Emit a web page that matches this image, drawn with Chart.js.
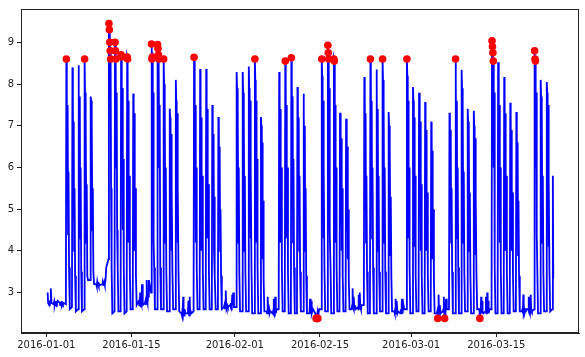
<!DOCTYPE html>
<html lang="en">
  <head>
    <meta charset="UTF-8" />
    <title>Readings with anomalies</title>
    <script src="https://cdn.jsdelivr.net/npm/chart.js@4.4.1/dist/chart.umd.min.js"></script>
    <style>
      body { margin: 0; background: #fff; }
      #chart { display: block; }
    </style>
  </head>
<body>
    <canvas id="chart" width="585" height="357"></canvas>

    <script>
      // sample times inside each day (fraction of a day)
      const sampleOffsets = [0.22, 0.30, 0.37, 0.44, 0.51, 0.58, 0.65, 0.74, 0.86];

      // one row per day, starting 2016-01-01
      const readings = [
        [3.0, 2.75, 2.72, 2.78, 2.7, 2.75, 2.8, 3.1, 2.75],   // 01-01
        [2.72, 2.78, 2.7, 2.75, 2.8, 2.72, 2.68, 2.75, 2.8],
        [2.75, 2.7, 2.78, 2.72, 2.8, 2.7, 2.75, 2.72, 2.75],
        [2.72, 8.6, 7.9, 5.2, 7.5, 4.4, 5.9, 3.6, 2.6],       // 01-04
        [2.65, 8.4, 7.8, 4.8, 7.1, 4.0, 5.5, 3.4, 2.55],
        [2.6, 8.45, 7.6, 5.1, 7.7, 4.3, 6.0, 3.5, 2.55],
        [2.6, 8.6, 7.8, 5.0, 7.3, 4.2, 5.6, 3.4, 3.3],
        [3.3, 7.7, 7.6, 5.2, 7.0, 4.5, 5.5, 3.5, 3.2],
        [3.2, 3.15, 3.25, 3.18, 3.2, 3.15, 3.22, 3.2, 3.18],
        [3.2, 3.22, 3.18, 3.2, 3.25, 3.2, 3.18, 3.3, 3.6],
        [3.8, 9.45, 9.3, 9.0, 8.8, 8.6, 5.5, 3.6, 2.5],       // 01-11
        [2.55, 9.0, 8.8, 8.6, 6.0, 7.8, 4.5, 3.6, 2.55],
        [2.55, 8.7, 8.65, 6.0, 7.9, 4.5, 6.2, 3.6, 2.5],
        [2.55, 8.65, 8.6, 5.5, 7.6, 4.2, 5.8, 3.5, 2.6],
        [2.6, 7.77, 7.5, 5.0, 7.3, 4.0, 5.5, 3.4, 2.7],
        [2.8, 2.7, 2.75, 3.0, 2.65, 2.8, 2.75, 3.2, 2.7],
        [2.75, 2.8, 2.7, 2.85, 3.3, 2.8, 2.75, 2.9, 3.3],
        [3.0, 8.96, 8.6, 8.65, 6.0, 7.8, 4.2, 3.6, 2.6],      // 01-18
        [2.6, 8.95, 8.85, 8.7, 8.6, 6.0, 7.5, 3.6, 2.6],
        [2.6, 8.6, 8.0, 5.5, 7.6, 4.2, 6.0, 3.5, 2.55],
        [2.55, 7.41, 7.2, 4.8, 6.8, 4.0, 5.5, 3.5, 2.6],
        [2.6, 8.1, 7.6, 5.2, 7.3, 4.2, 5.5, 3.5, 2.55],
        [2.5, 2.45, 2.55, 2.5, 2.9, 2.5, 2.45, 2.6, 2.5],
        [2.5, 2.55, 2.8, 2.5, 2.45, 2.9, 2.5, 2.55, 2.5],
        [2.55, 8.64, 8.0, 5.5, 7.5, 4.2, 6.0, 3.6, 2.6],      // 01-25
        [2.6, 8.36, 7.8, 5.0, 7.2, 4.0, 5.8, 3.5, 2.6],
        [2.6, 8.36, 7.6, 5.2, 7.4, 4.3, 5.6, 3.5, 2.6],
        [2.6, 7.5, 7.2, 5.0, 6.8, 4.0, 5.3, 3.4, 2.6],
        [2.6, 7.21, 7.0, 4.8, 6.5, 4.0, 5.0, 3.4, 2.6],
        [2.65, 2.7, 2.6, 2.75, 3.05, 2.7, 2.65, 2.7, 2.65],
        [2.7, 2.65, 2.75, 2.6, 2.7, 2.95, 2.7, 3.0, 2.65],
        [2.65, 8.29, 7.9, 5.2, 7.5, 4.2, 6.0, 3.5, 2.55],     // 02-01
        [2.55, 8.29, 7.8, 5.0, 7.4, 4.0, 5.8, 3.5, 2.55],
        [2.55, 8.42, 7.9, 5.2, 7.6, 4.3, 6.0, 3.6, 2.5],
        [2.5, 8.6, 8.1, 5.5, 7.6, 4.2, 6.2, 3.6, 2.5],
        [2.5, 7.21, 7.0, 4.6, 6.6, 3.8, 5.2, 3.3, 2.55],
        [2.55, 2.5, 2.6, 2.9, 2.5, 2.55, 2.6, 2.5, 2.55],
        [2.5, 2.55, 2.85, 2.5, 2.45, 2.6, 2.9, 2.5, 2.6],
        [2.6, 8.29, 7.9, 5.0, 7.4, 4.2, 6.0, 3.6, 2.55],      // 02-08
        [2.55, 8.55, 8.1, 5.2, 7.5, 4.3, 6.0, 3.5, 2.5],
        [2.5, 8.63, 8.2, 5.4, 7.7, 4.2, 6.2, 3.6, 2.5],
        [2.5, 7.93, 7.6, 5.0, 7.2, 4.0, 5.8, 3.5, 2.55],
        [2.55, 7.77, 7.5, 4.8, 7.0, 4.0, 5.5, 3.4, 2.5],
        [2.5, 2.55, 2.85, 2.5, 2.6, 2.8, 2.5, 2.55, 2.6],
        [2.5, 2.45, 2.38, 2.42, 2.38, 2.5, 2.38, 2.45, 2.6],
        [2.6, 8.6, 8.2, 5.5, 7.6, 4.3, 6.0, 3.6, 2.55],       // 02-15
        [2.55, 8.93, 8.75, 8.6, 6.0, 7.9, 4.4, 3.6, 2.5],
        [2.5, 8.6, 8.55, 5.5, 7.5, 4.2, 6.0, 3.6, 2.55],
        [2.55, 7.31, 7.0, 4.6, 6.7, 4.0, 5.5, 3.4, 2.55],
        [2.55, 7.17, 6.9, 4.5, 6.5, 3.8, 5.0, 3.3, 2.6],
        [2.6, 2.7, 3.1, 2.65, 2.6, 2.9, 2.65, 2.7, 2.6],
        [2.65, 2.6, 2.95, 2.7, 2.6, 3.0, 2.65, 2.6, 2.7],
        [2.7, 8.17, 7.8, 5.0, 7.3, 4.2, 5.8, 3.5, 2.5],       // 02-22
        [2.5, 8.6, 8.2, 5.4, 7.6, 4.3, 6.0, 3.6, 2.5],
        [2.5, 8.35, 7.9, 5.2, 7.4, 4.0, 5.8, 3.5, 2.55],
        [2.55, 8.6, 8.1, 5.3, 7.5, 4.2, 6.0, 3.5, 2.5],
        [2.5, 7.33, 7.0, 4.6, 6.6, 3.9, 5.3, 3.4, 2.55],
        [2.55, 2.5, 2.6, 2.85, 2.5, 2.55, 2.8, 2.5, 2.55],
        [2.5, 2.6, 2.5, 2.75, 2.85, 2.5, 2.55, 2.7, 2.6],
        [2.6, 8.6, 8.2, 5.4, 7.6, 4.3, 6.0, 3.6, 2.5],        // 02-29
        [2.5, 7.93, 7.6, 5.0, 7.2, 4.1, 5.8, 3.4, 2.55],
        [2.55, 7.79, 7.5, 4.9, 7.1, 4.0, 5.6, 3.4, 2.5],
        [2.5, 7.57, 7.3, 4.8, 6.9, 4.0, 5.4, 3.4, 2.55],
        [2.55, 7.1, 6.8, 4.5, 6.4, 3.8, 5.0, 3.3, 2.5],
        [2.5, 2.55, 2.38, 2.5, 2.95, 2.55, 2.5, 2.7, 2.5],
        [2.55, 2.6, 2.9, 2.5, 2.38, 2.45, 2.6, 2.85, 2.6],
        [2.6, 7.31, 7.2, 5.0, 6.9, 4.2, 5.5, 3.5, 2.5],       // 03-07
        [2.5, 8.6, 8.1, 5.5, 7.6, 4.3, 6.0, 3.6, 2.5],
        [2.5, 8.34, 7.9, 5.2, 7.5, 4.2, 5.9, 3.5, 2.55],
        [2.55, 7.41, 7.1, 4.8, 6.8, 4.0, 5.4, 3.4, 2.5],
        [2.5, 7.36, 7.0, 4.7, 6.7, 3.9, 5.3, 3.4, 2.6],
        [2.6, 2.38, 2.55, 2.6, 2.9, 2.5, 2.8, 2.55, 2.5],
        [2.55, 2.9, 2.5, 2.6, 3.0, 2.55, 2.8, 2.5, 2.6],
        [2.6, 9.04, 8.9, 8.75, 8.55, 6.0, 7.8, 3.6, 2.5],     // 03-14
        [2.5, 8.52, 8.0, 5.3, 7.5, 4.2, 6.0, 3.5, 2.5],
        [2.5, 8.17, 7.8, 5.0, 7.3, 4.0, 5.8, 3.5, 2.5],
        [2.5, 7.55, 7.2, 4.8, 6.9, 4.0, 5.4, 3.4, 2.55],
        [2.55, 7.33, 7.0, 4.7, 6.6, 3.9, 5.2, 3.4, 2.55],
        [2.55, 2.6, 2.5, 2.95, 2.55, 2.6, 2.5, 2.55, 2.6],
        [2.6, 2.55, 2.9, 2.6, 2.55, 2.5, 2.95, 2.6, 2.55],
        [2.6, 8.8, 8.6, 8.55, 6.0, 7.8, 4.4, 3.6, 2.5],       // 03-21
        [2.5, 8.1, 7.7, 5.0, 7.4, 4.2, 5.8, 3.5, 2.55],
        [2.55, 8.05, 7.8, 5.2, 7.5, 4.1, 5.8, 3.5, 2.55],
        [2.6, 5.8, 3.33]                                      // 03-24
      ];

      // flagged points (day from 2016-01-01, value)
      const anomalyDays = [
        3.30, 6.30,
        10.30, 10.37, 10.44, 10.51, 10.58, 11.30, 11.37, 11.44, 12.30, 12.37, 13.30, 13.37,
        17.30, 17.37, 17.44, 18.30, 18.37, 18.44, 18.51, 19.30,
        24.30, 34.30, 39.30, 40.30,
        44.37, 44.51, 44.65,
        45.30, 46.30, 46.37, 46.44, 47.30, 47.37,
        53.30, 55.30, 59.30, 64.37, 65.51, 67.30, 71.30,
        73.30, 73.37, 73.44, 73.51, 80.30, 80.37, 80.44
      ];
      const anomalyValues = [
        8.6, 8.6,
        9.45, 9.3, 9.0, 8.8, 8.6, 9.0, 8.8, 8.6, 8.7, 8.65, 8.65, 8.6,
        8.96, 8.6, 8.65, 8.95, 8.85, 8.7, 8.6, 8.6,
        8.64, 8.6, 8.55, 8.63,
        2.38, 2.38, 2.38,
        8.6, 8.93, 8.75, 8.6, 8.6, 8.55,
        8.6, 8.6, 8.6, 2.38, 2.38, 8.6, 2.38,
        9.04, 8.9, 8.75, 8.55, 8.8, 8.6, 8.55
      ];

      const tickDays = [0, 14, 31, 45, 60, 74];
      const tickLabels = ['2016-01-01', '2016-01-15', '2016-02-01', '2016-02-15', '2016-03-01', '2016-03-15'];
      const yTicks = [3, 4, 5, 6, 7, 8, 9];

      const linePoints = [];
      readings.forEach((row, d) => {
        row.forEach((v, k) => linePoints.push({ x: d + sampleOffsets[k], y: v }));
      });
      const anomalyPoints = anomalyDays.map((x, i) => ({ x: x, y: anomalyValues[i] }));

      // box round the plot like matplotlib spines
      const frame = {
        id: 'frame',
        afterDraw(chart) {
          const a = chart.chartArea;
          const c = chart.ctx;
          c.save();
          c.strokeStyle = '#222';
          c.lineWidth = 1;
          c.strokeRect(Math.round(a.left) + 0.5, Math.round(a.top) + 0.5,
                       Math.round(a.right - a.left) - 1, Math.round(a.bottom - a.top) - 1);
          c.restore();
        }
      };

      Chart.defaults.font.family = 'DejaVu Sans';
      Chart.defaults.font.size = 10;
      Chart.defaults.color = '#222';

      new Chart(document.getElementById('chart'), {
        type: 'line',
        data: {
          datasets: [
            {
              data: anomalyPoints,
              showLine: false,
              pointRadius: 3.8,
              pointBackgroundColor: '#ff0000',
              pointBorderWidth: 0,
              order: 0
            },
            {
              data: linePoints,
              borderColor: '#0000ff',
              borderWidth: 1.8,
              pointRadius: 0,
              tension: 0,
              order: 1
            }
          ]
        },
        options: {
          responsive: false,
          animation: false,
          devicePixelRatio: 1,
          layout: { padding: { top: 7, right: 6, left: 0, bottom: 0 } },
          plugins: { legend: { display: false }, tooltip: { enabled: false } },
          scales: {
            x: {
              type: 'linear',
              min: -4.16,
              max: 87.6,
              afterBuildTicks: s => { s.ticks = tickDays.map(v => ({ value: v })); },
              afterFit: s => { s.height = 24; },
              ticks: {
                autoSkip: false,
                maxRotation: 0,
                padding: 2,
                callback: v => tickLabels[tickDays.indexOf(v)]
              },
              grid: { drawOnChartArea: false, tickLength: 4, tickColor: '#222' },
              border: { color: '#222' }
            },
            y: {
              min: 2.03,
              max: 9.8,
              afterBuildTicks: s => { s.ticks = yTicks.map(v => ({ value: v })); },
              afterFit: s => { s.width = 21; },
              ticks: { padding: 3 },
              grid: { drawOnChartArea: false, tickLength: 4, tickColor: '#222' },
              border: { color: '#222' }
            }
          }
        },
        plugins: [frame]
      });
    </script>
  </body>
</html>
